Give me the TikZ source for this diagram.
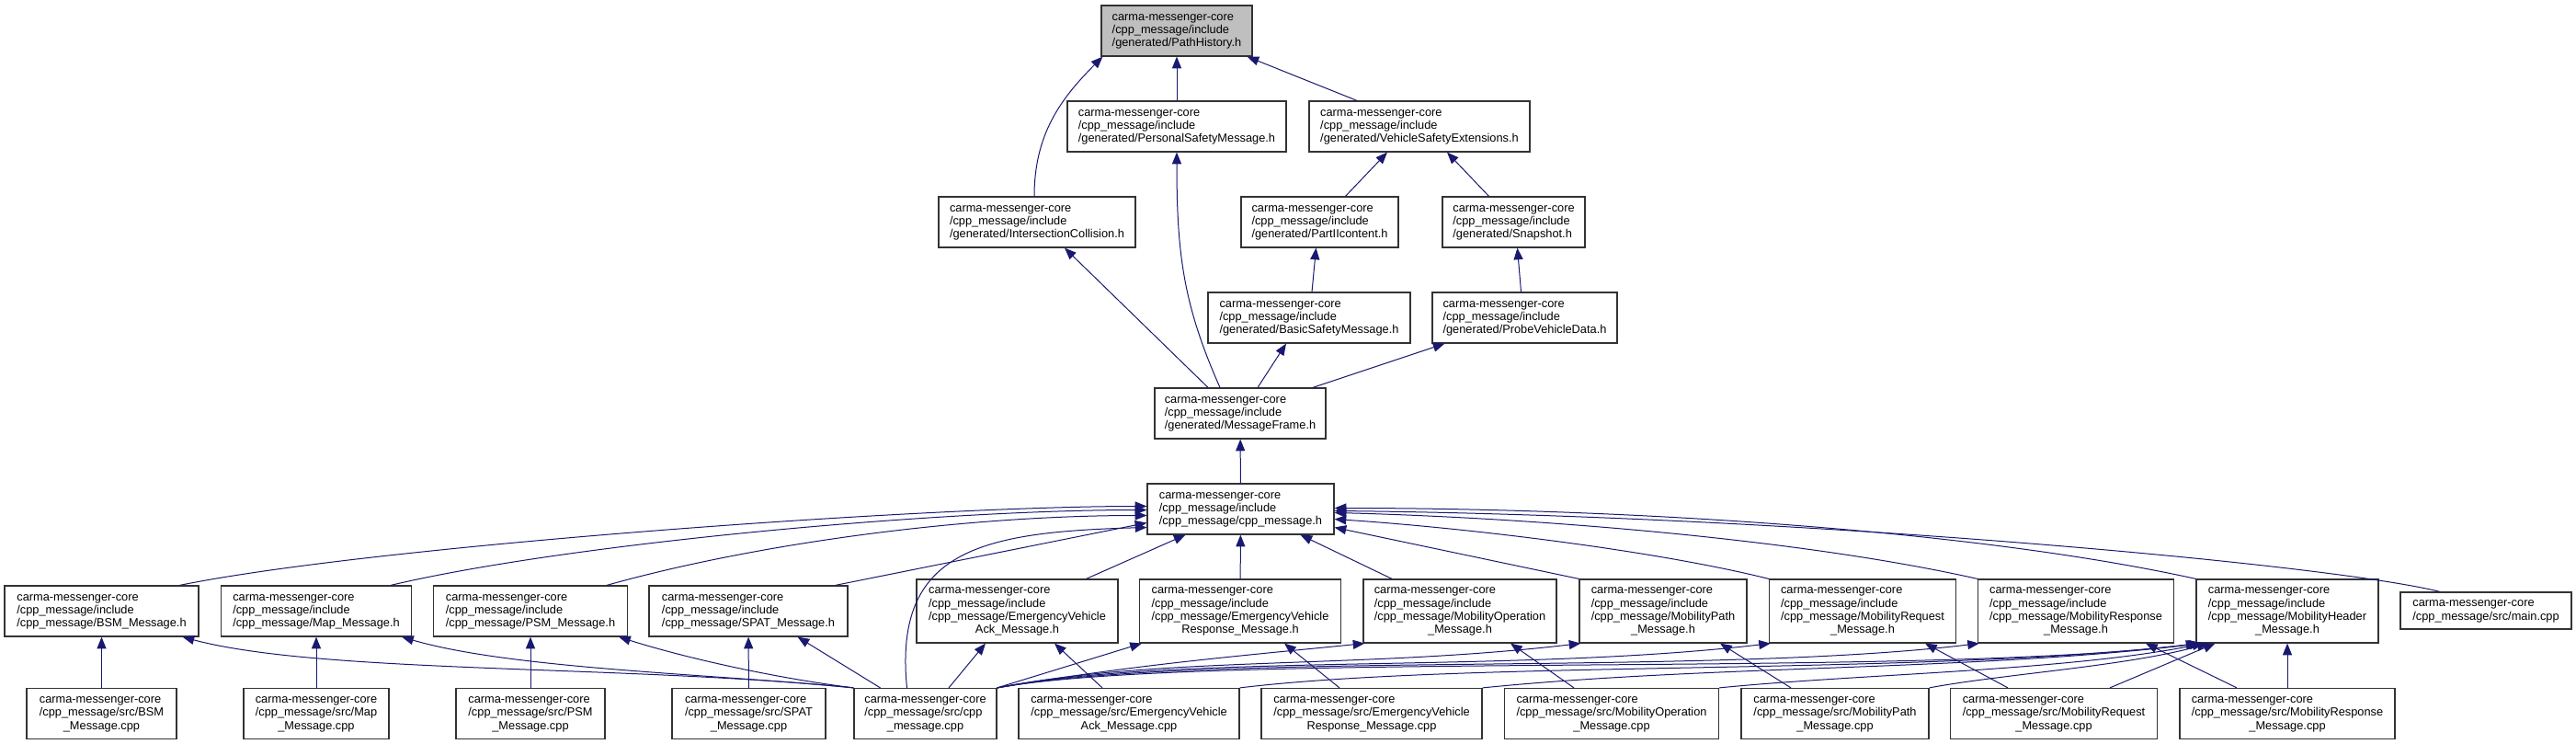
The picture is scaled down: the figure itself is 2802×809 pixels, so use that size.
\documentclass[tikz,border=0pt]{standalone}
\usepackage{fontspec}
\setmainfont{Liberation Sans}
\usetikzlibrary{arrows.meta,calc}
\definecolor{edgeblue}{HTML}{191970}
\definecolor{rootgray}{HTML}{BFBFBF}
\newcommand{\flines}[1]{\begin{tabular}{@{}l@{}}#1\end{tabular}}
\newcommand{\lastc}[1]{\multicolumn{1}{@{}c@{}}{#1}}
\tikzset{
  filebox/.style={draw=black!80, line width=0.9pt, inner sep=0pt, fill=white,
    font=\fontsize{9.6}{10.75}\selectfont},
  boxw/.style={minimum width=0.75pt*#1},
  boxh/.style={minimum height=0.75pt*#1},
  dep/.style={draw=edgeblue, line width=0.75pt, -{Triangle[length=9.5pt,width=7.5pt]}}
}

\begin{document}
\begin{tikzpicture}[x=0.75pt, y=-0.75pt]
    \useasboundingbox (0,0) rectangle (2802,809);

    % generated headers
    \node[filebox, fill=rootgray, boxw=164, boxh=55] (ph) at (1280,33.5) {\flines{carma-messenger-core\\/cpp\_message/include\\/generated/PathHistory.h}};
    \node[filebox, boxw=238, boxh=55] (psmg) at (1280,137.5) {\flines{carma-messenger-core\\/cpp\_message/include\\/generated/PersonalSafetyMessage.h}};
    \node[filebox, boxw=240, boxh=55] (vse) at (1544,137.5) {\flines{carma-messenger-core\\/cpp\_message/include\\/generated/VehicleSafetyExtensions.h}};
    \node[filebox, boxw=214, boxh=55] (ic) at (1128,241.5) {\flines{carma-messenger-core\\/cpp\_message/include\\/generated/IntersectionCollision.h}};
    \node[filebox, boxw=171, boxh=55] (p2) at (1435.5,241.5) {\flines{carma-messenger-core\\/cpp\_message/include\\/generated/PartIIcontent.h}};
    \node[filebox, boxw=155, boxh=55] (snap) at (1646.5,241.5) {\flines{carma-messenger-core\\/cpp\_message/include\\/generated/Snapshot.h}};
    \node[filebox, boxw=220, boxh=55] (bsmg) at (1424,345.5) {\flines{carma-messenger-core\\/cpp\_message/include\\/generated/BasicSafetyMessage.h}};
    \node[filebox, boxw=201, boxh=55] (pvd) at (1658.5,345.5) {\flines{carma-messenger-core\\/cpp\_message/include\\/generated/ProbeVehicleData.h}};
    \node[filebox, boxw=186, boxh=55] (mf) at (1349,449.5) {\flines{carma-messenger-core\\/cpp\_message/include\\/generated/MessageFrame.h}};
    \node[filebox, boxw=203, boxh=55] (cpph) at (1349.5,553.5) {\flines{carma-messenger-core\\/cpp\_message/include\\/cpp\_message/cpp\_message.h}};

    % message headers
    \node[filebox, boxw=211, boxh=55] (bsmh) at (110.5,664.5) {\flines{carma-messenger-core\\/cpp\_message/include\\/cpp\_message/BSM\_Message.h}};
    \node[filebox, boxw=207, boxh=55] (maph) at (344,664.5) {\flines{carma-messenger-core\\/cpp\_message/include\\/cpp\_message/Map\_Message.h}};
    \node[filebox, boxw=211, boxh=55] (psmh) at (577,664.5) {\flines{carma-messenger-core\\/cpp\_message/include\\/cpp\_message/PSM\_Message.h}};
    \node[filebox, boxw=216, boxh=55] (spath) at (814,664.5) {\flines{carma-messenger-core\\/cpp\_message/include\\/cpp\_message/SPAT\_Message.h}};
    \node[filebox, boxw=219, boxh=69] (evackh) at (1106.5,664.5) {\flines{carma-messenger-core\\/cpp\_message/include\\/cpp\_message/EmergencyVehicle\\\lastc{Ack\_Message.h}}};
    \node[filebox, boxw=219, boxh=69] (evresph) at (1349,664.5) {\flines{carma-messenger-core\\/cpp\_message/include\\/cpp\_message/EmergencyVehicle\\\lastc{Response\_Message.h}}};
    \node[filebox, boxw=210, boxh=69] (mobopph) at (1588,664.5) {\flines{carma-messenger-core\\/cpp\_message/include\\/cpp\_message/MobilityOperation\\\lastc{\_Message.h}}};
    \node[filebox, boxw=182, boxh=69] (mobpathh) at (1809,664.5) {\flines{carma-messenger-core\\/cpp\_message/include\\/cpp\_message/MobilityPath\\\lastc{\_Message.h}}};
    \node[filebox, boxw=203, boxh=69] (mobreqh) at (2026,664.5) {\flines{carma-messenger-core\\/cpp\_message/include\\/cpp\_message/MobilityRequest\\\lastc{\_Message.h}}};
    \node[filebox, boxw=213, boxh=69] (mobresph) at (2258,664.5) {\flines{carma-messenger-core\\/cpp\_message/include\\/cpp\_message/MobilityResponse\\\lastc{\_Message.h}}};
    \node[filebox, boxw=198, boxh=69] (mobheadh) at (2488,664.5) {\flines{carma-messenger-core\\/cpp\_message/include\\/cpp\_message/MobilityHeader\\\lastc{\_Message.h}}};
    \node[filebox, boxw=186, boxh=40] (main) at (2704,664) {\flines{carma-messenger-core\\/cpp\_message/src/main.cpp}};

    % sources
    \node[filebox, boxw=163, boxh=55] (bsmc) at (110.5,776) {\flines{carma-messenger-core\\/cpp\_message/src/BSM\\\lastc{\_Message.cpp}}};
    \node[filebox, boxw=158, boxh=55] (mapc) at (344,776) {\flines{carma-messenger-core\\/cpp\_message/src/Map\\\lastc{\_Message.cpp}}};
    \node[filebox, boxw=162, boxh=55] (psmc) at (577,776) {\flines{carma-messenger-core\\/cpp\_message/src/PSM\\\lastc{\_Message.cpp}}};
    \node[filebox, boxw=167, boxh=55] (spatc) at (814.5,776) {\flines{carma-messenger-core\\/cpp\_message/src/SPAT\\\lastc{\_Message.cpp}}};
    \node[filebox, boxw=155, boxh=55] (cppc) at (1006.5,776) {\flines{carma-messenger-core\\/cpp\_message/src/cpp\\\lastc{\_message.cpp}}};
    \node[filebox, boxw=240, boxh=55] (evackc) at (1228,776) {\flines{carma-messenger-core\\/cpp\_message/src/EmergencyVehicle\\\lastc{Ack\_Message.cpp}}};
    \node[filebox, boxw=240, boxh=55] (evrespc) at (1492,776) {\flines{carma-messenger-core\\/cpp\_message/src/EmergencyVehicle\\\lastc{Response\_Message.cpp}}};
    \node[filebox, boxw=233, boxh=55] (mobopc) at (1753,776) {\flines{carma-messenger-core\\/cpp\_message/src/MobilityOperation\\\lastc{\_Message.cpp}}};
    \node[filebox, boxw=204, boxh=55] (mobpathc) at (1996,776) {\flines{carma-messenger-core\\/cpp\_message/src/MobilityPath\\\lastc{\_Message.cpp}}};
    \node[filebox, boxw=225, boxh=55] (mobreqc) at (2234,776) {\flines{carma-messenger-core\\/cpp\_message/src/MobilityRequest\\\lastc{\_Message.cpp}}};
    \node[filebox, boxw=234, boxh=55] (mobrespc) at (2488,776) {\flines{carma-messenger-core\\/cpp\_message/src/MobilityResponse\\\lastc{\_Message.cpp}}};

    % upper part
    \draw[dep] (psmg) -- (ph);
    \draw[dep] ($(vse.north)+(-68,0)$) -- ($(ph.south east)+(-6,0)$);
    \draw[dep] ($(ic.north)+(-3,0)$) to[out=90, in=225] ($(ph.south west)+(2,0)$);
    \draw[dep] ($(p2.north)+(28,0)$) -- ($(vse.south)+(-35,0)$);
    \draw[dep] ($(snap.north)+(-27,0)$) -- ($(vse.south)+(30,0)$);
    \draw[dep] ($(bsmg.north)+(3,0)$) -- ($(p2.south)+(-4,0)$);
    \draw[dep] ($(pvd.north)+(-4,0)$) -- ($(snap.south)+(4,0)$);
    \draw[dep] ($(mf.north)+(-35,0)$) -- ($(ic.south)+(30,0)$);
    \draw[dep] ($(mf.north)+(-22,0)$) .. controls +(-40,-90) and +(0,110) .. (psmg.south);
    \draw[dep] ($(mf.north)+(19,0)$) -- ($(bsmg.south)+(-25,0)$);
    \draw[dep] ($(mf.north)+(79,0)$) -- ($(pvd.south)+(-87,0)$);
    \draw[dep] (cpph) -- (mf);

    % headers into cpp_message.h
    \draw[dep] ($(bsmh.north)+(85,0)$) .. controls +(205,-42) and +(-247,0) .. ($(cpph.west)+(0,-3)$);
    \draw[dep] ($(maph.north)+(81,0)$) .. controls +(190,-45) and +(-230,0) .. ($(cpph.west)+(0,1)$);
    \draw[dep] ($(psmh.north)+(83,0)$) .. controls +(160,-45) and +(-200,0) .. ($(cpph.west)+(0,7)$);
    \draw[dep] ($(spath.north east)+(-14,0)$) -- ($(cpph.west)+(0,15)$);
    \draw[dep] ($(cppc.north)+(-20,0)$) .. controls +(-15,-150) and +(-180,5) .. ($(cpph.west)+(0,20)$);
    \draw[dep] ($(evackh.north)+(75,0)$) -- ($(cpph.south)+(-60,0)$);
    \draw[dep] (evresph) -- (cpph);
    \draw[dep] ($(mobopph.north)+(-74,0)$) -- ($(cpph.south)+(65,0)$);
    \draw[dep] (mobpathh.north west) -- ($(cpph.east)+(0,20)$);
    \draw[dep] (mobreqh.north west) .. controls +(-120,-30) and +(150,10) .. ($(cpph.east)+(0,11)$);
    \draw[dep] (mobresph.north west) .. controls +(-200,-45) and +(200,5) .. ($(cpph.east)+(0,4)$);
    \draw[dep] (mobheadh.north west) .. controls +(-250,-55) and +(300,0) .. ($(cpph.east)+(0,-1)$);
    \draw[dep] ($(main.north)+(-50,0)$) .. controls +(-120,-30) and +(500,5) .. ($(cpph.east)+(0,2)$);

    % sources into headers
    \draw[dep] (bsmc) -- (bsmh);
    \draw[dep] (mapc) -- (maph);
    \draw[dep] (psmc) -- (psmh);
    \draw[dep] (spatc) -- (spath);
    \draw[dep] (cppc.north west) .. controls +(-250,-25) and +(150,40) .. ($(bsmh.south east)+(-18,0)$);
    \draw[dep] (cppc.north west) .. controls +(-150,-15) and +(120,35) .. ($(maph.south east)+(-11,0)$);
    \draw[dep] (cppc.north west) .. controls +(-80,-10) and +(80,25) .. ($(psmh.south east)+(-10,0)$);
    \draw[dep] ($(cppc.north)+(-49,0)$) -- ($(spath.south east)+(-55,0)$);
    \draw[dep] ($(cppc.north)+(25.5,0)$) -- ($(evackh.south)+(-34.5,0)$);
    \draw[dep] ($(evackc.north)+(-29,0)$) -- ($(evackh.south)+(40.5,0)$);
    \draw[dep] (cppc.north east) -- ($(evresph.south west)+(3,0)$);
    \draw[dep] ($(evrespc.north)+(-35,0)$) -- ($(evresph.south)+(48,0)$);
    \draw[dep] (cppc.north east) .. controls +(150,-25) and +(-150,15) .. ($(mobopph.south west)+(2,0)$);
    \draw[dep] (cppc.north east) .. controls +(180,-35) and +(-240,28) .. ($(mobpathh.south west)+(2,0)$);
    \draw[dep] (cppc.north east) .. controls +(200,-38) and +(-280,33) .. ($(mobreqh.south west)+(2,0)$);
    \draw[dep] (cppc.north east) .. controls +(220,-40) and +(-300,36) .. ($(mobresph.south west)+(2,0)$);
    \draw[dep] (cppc.north east) .. controls +(220,-40) and +(-300,38) .. ($(mobheadh.south west)+(2,0)$);
    \draw[dep] (evackc.north east) .. controls +(250,-30) and +(-300,35) .. ($(mobheadh.south west)+(4,0)$);
    \draw[dep] (evrespc.north east) .. controls +(250,-25) and +(-250,30) .. ($(mobheadh.south west)+(6,0)$);
    \draw[dep] (mobopc.north east) .. controls +(150,-15) and +(-150,30) .. ($(mobheadh.south west)+(9,0)$);
    \draw[dep] (mobpathc.north east) .. controls +(80,-15) and +(-90,25) .. ($(mobheadh.south west)+(14,0)$);
    \draw[dep] ($(mobreqc.north)+(61,0)$) -- ($(mobheadh.south west)+(21,0)$);
    \draw[dep] (mobrespc) -- (mobheadh);
    \draw[dep] ($(mobopc.north)+(-41,0)$) -- ($(mobopph.south)+(55,0)$);
    \draw[dep] ($(mobpathc.north)+(-48,0)$) -- ($(mobpathh.south)+(62,0)$);
    \draw[dep] ($(mobreqc.north)+(-50,0)$) -- ($(mobreqh.south)+(68,0)$);
    \draw[dep] ($(mobrespc.north)+(-55,0)$) -- ($(mobresph.south)+(76,0)$);
\end{tikzpicture}
\end{document}
